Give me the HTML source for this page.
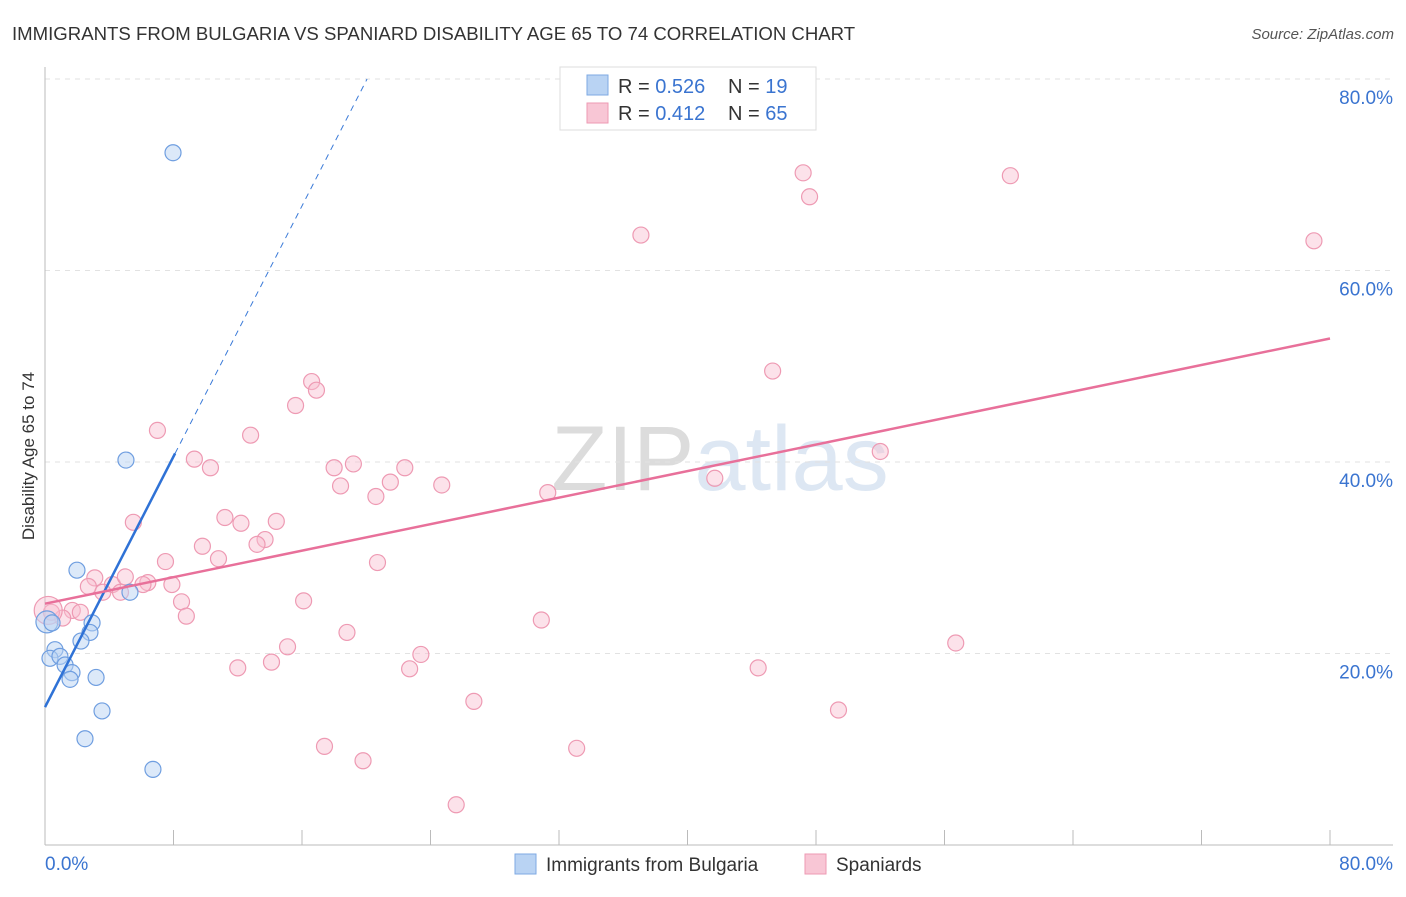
<!DOCTYPE html>
<html><head><meta charset="utf-8"><style>
body{margin:0;background:#fff;font-family:"Liberation Sans",sans-serif;}
svg text{font-family:"Liberation Sans",sans-serif;}
</style></head><body>
<svg id="chart" width="1406" height="892" xmlns="http://www.w3.org/2000/svg">
<text x="12" y="40" font-size="18.6" fill="#333">IMMIGRANTS FROM BULGARIA VS SPANIARD DISABILITY AGE 65 TO 74 CORRELATION CHART</text>
<text x="1394" y="39" font-size="15" fill="#555" font-style="italic" text-anchor="end">Source: ZipAtlas.com</text>
<text x="720" y="490" font-size="92" fill="#e4e4e4" text-anchor="middle" font-family="Liberation Serif"><tspan fill="#dcdcdc">ZIP</tspan><tspan fill="#dde7f3" font-family="Liberation Sans">atlas</tspan></text>
<text transform="translate(34,456) rotate(-90)" font-size="17" fill="#333" text-anchor="middle">Disability Age 65 to 74</text>
<g id="grid"></g><g id="marks"></g>
<g>
<rect x="560" y="67" width="256" height="63" fill="#fff" stroke="#ddd"/>
<rect x="587" y="75" width="21" height="20" fill="#b9d3f3" stroke="#7eaae3"/>
<rect x="587" y="103" width="21" height="20" fill="#f8c6d5" stroke="#ee9ab3"/>
<text x="618" y="93" font-size="20" fill="#333">R = <tspan fill="#3a74d0">0.526</tspan></text>
<text x="728" y="93" font-size="20" fill="#333">N = <tspan fill="#3a74d0"> 19</tspan></text>
<text x="618" y="120" font-size="20" fill="#333">R = <tspan fill="#3a74d0"> 0.412</tspan></text>
<text x="728" y="120" font-size="20" fill="#333">N = <tspan fill="#3a74d0">65</tspan></text>
</g>
<g>
<rect x="515" y="854" width="21" height="20" fill="#b9d3f3" stroke="#7eaae3"/>
<text x="546" y="871" font-size="19" fill="#333">Immigrants from Bulgaria</text>
<rect x="805" y="854" width="21" height="20" fill="#f8c6d5" stroke="#ee9ab3"/>
<text x="836" y="871" font-size="19" fill="#333">Spaniards</text>
</g>
</svg>
<script>
const blueX=[7.97,5.04,1.99,5.29,2.93,2.80,2.24,0.12,0.44,0.62,0.31,0.93,1.25,1.68,1.56,3.18,3.55,2.49,6.72];
const blueY=[72.3,40.2,28.7,26.4,23.2,22.2,21.3,23.3,23.2,20.4,19.5,19.7,18.8,18.0,17.3,17.5,14.0,11.1,7.9];
const pinkX=[47.2,47.6,60.1,37.1,79.0,45.3,16.6,16.9,15.6,7.0,12.8,9.3,52.0,10.3,18.0,19.2,22.4,21.5,18.4,24.7,20.6,31.3,41.7,5.5,11.2,12.2,14.4,13.7,13.2,9.8,10.8,7.5,20.7,3.1,2.7,4.2,5.0,3.6,6.4,6.1,7.9,4.7,8.5,16.1,1.7,2.2,1.1,0.4,8.8,30.9,18.8,56.7,15.1,23.4,14.1,12.0,22.7,44.4,26.7,49.4,17.4,33.1,19.8,25.6,0.2];
const pinkY=[70.2,67.7,69.9,63.7,63.1,49.5,48.4,47.5,45.9,43.3,42.8,40.3,41.1,39.4,39.4,39.8,39.4,37.9,37.5,37.6,36.4,36.8,38.3,33.7,34.2,33.6,33.8,31.9,31.4,31.2,29.9,29.6,29.5,27.9,27.0,27.2,28.0,26.4,27.4,27.2,27.2,26.4,25.4,25.5,24.5,24.3,23.7,24.3,23.9,23.5,22.2,21.1,20.7,19.9,19.1,18.5,18.4,18.5,15.0,14.1,10.3,10.1,8.8,4.2,24.5];
const blueTrend=[14.4,40.9];
const blueTrendEndX=8.1;
const pinkTrend=[25.2,52.9];
const yTicks=[20,40,60,80];
const yTickLabels=["20.0%","40.0%","60.0%","80.0%"];
const xTickCount=10;
const NS="http://www.w3.org/2000/svg";
const sx=v=>45+v*(1285/80);
const sy=v=>845-v*(766/80);
const grid=document.getElementById('grid'),marks=document.getElementById('marks');
function mk(tag,attrs,parent){const e=document.createElementNS(NS,tag);for(const k in attrs)e.setAttribute(k,attrs[k]);parent.appendChild(e);return e;}
yTicks.forEach((t,i)=>{
 const l=mk('line',{x1:45,x2:1393,y1:sy(t),y2:sy(t),stroke:'#e2e2e2','stroke-dasharray':'5,5'},grid);
 
 
 const tx=mk('text',{x:1393,y:sy(t)+25,'font-size':19,fill:'#3a74d0','text-anchor':'end'},grid);
 tx.textContent=yTickLabels[i];
 
 
});
const ax=mk('line',{x1:45,x2:1393,y1:845,y2:845,stroke:'#bbb'},grid);


const ay=mk('line',{x1:45,x2:45,y1:67,y2:845,stroke:'#bbb'},grid);


for(let i=0;i<=xTickCount;i++){const x=sx(i*80/xTickCount);
 const t=mk('line',{x1:x,x2:x,y1:830,y2:845,stroke:'#bbb'},grid);
 
 }
const x0=mk('text',{x:45,y:870,'font-size':19,fill:'#3a74d0'},grid);x0.textContent='0.0%';


const x1=mk('text',{x:1393,y:870,'font-size':19,fill:'#3a74d0','text-anchor':'end'},grid);x1.textContent='80.0%';


pinkX.forEach((v,i)=>{const c=mk('circle',{cx:sx(v),cy:sy(pinkY[i]),r:i==pinkX.length-1?14:8,fill:'rgba(248,190,208,0.45)',stroke:'#ee9ab3','stroke-width':1.2},marks);
 
 });
blueX.forEach((v,i)=>{const c=mk('circle',{cx:sx(v),cy:sy(blueY[i]),r:i==7?11:8,fill:'rgba(185,211,243,0.5)',stroke:'#6f9ee0','stroke-width':1.2},marks);
 
 });
const slope=(blueTrend[1]-blueTrend[0])/blueTrendEndX;
const xEnd=(80-blueTrend[0])/slope;
const bd=mk('line',{x1:sx(blueTrendEndX),y1:sy(blueTrend[1]),x2:sx(xEnd),y2:sy(80),stroke:'#3a7ad8','stroke-width':1,'stroke-dasharray':'6,5'},marks);


const bl=mk('line',{x1:sx(0),y1:sy(blueTrend[0]),x2:sx(blueTrendEndX),y2:sy(blueTrend[1]),stroke:'#2f72d6','stroke-width':2.5},marks);


const pl=mk('line',{x1:sx(0),y1:sy(pinkTrend[0]),x2:sx(80),y2:sy(pinkTrend[1]),stroke:'#e8709a','stroke-width':2.5},marks);


</script>
</body></html>
